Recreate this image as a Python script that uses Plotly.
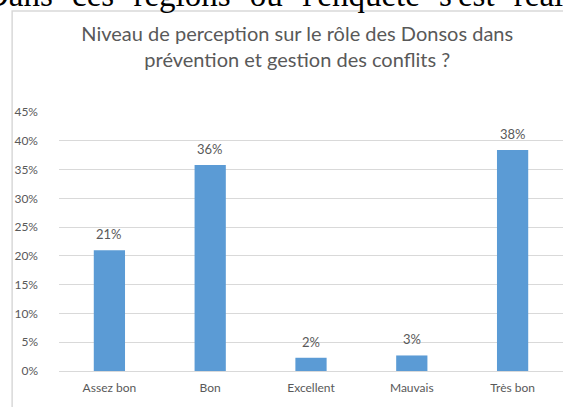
import plotly.graph_objects as go

categories = ["Assez bon", "Bon", "Excellent", "Mauvais", "Très bon"]
shares = [0.21, 0.358, 0.023, 0.027, 0.384]
y_ticks = [0, 0.05, 0.10, 0.15, 0.20, 0.25, 0.30, 0.35, 0.40, 0.45]

title_text = "Niveau de perception sur le rôle des Donsos dans<br>prévention et gestion des conflits ?"
gap = "\u00a0\u2004"
doc_text = gap.join(["Dans", "ces", "régions", "où", "l'enquête", "s'est", "réalisée"])

GREY = "#595959"
GRID = "#D9D9D9"
BLUE = "#5B9BD5"
FONT = "Lato"

fig = go.Figure()
fig.add_trace(go.Bar(
    x=categories, y=shares,
    marker=dict(color=BLUE, line=dict(width=0)),
    width=0.31,
    hoverinfo="x+y",
))

# data labels a little above each bar
for cat, val in zip(categories, shares):
    fig.add_annotation(x=cat, y=val, text=f"{val:.0%}", showarrow=False,
                       yanchor="bottom", yshift=6,
                       font=dict(family=FONT, size=13, color=GREY))

# chart frame (the Excel chart area, cut by the page at right and bottom)
fig.add_shape(type="rect", xref="paper", yref="paper",
              x0=-0.093, x1=1.05, y0=-0.3, y1=1.39,
              line=dict(color=GRID, width=1.5), layer="below")

# line of document text above the chart, cut by the page top
fig.add_annotation(text=doc_text, xref="paper", yref="paper",
                   x=-0.149, y=1.378, xanchor="left", yanchor="bottom",
                   showarrow=False, borderpad=0,
                   font=dict(family="Liberation Serif", size=33, color="black"))

fig.update_layout(
    width=563, height=407,
    margin=dict(t=112, b=36, l=59, r=0),
    plot_bgcolor="white", paper_bgcolor="white",
    showlegend=False,
    title=dict(text=title_text, xref="container", x=0.528, xanchor="center",
               yref="container", y=1 - 41 / 407, yanchor="middle",
               font=dict(family=FONT, size=20, color=GREY)),
    bargap=0.69,
)
fig.update_xaxes(showgrid=False, showline=True, linecolor=GRID, linewidth=1,
                 tickfont=dict(family=FONT, size=12, color=GREY),
                 ticklabelstandoff=6)
fig.update_yaxes(range=[0, 0.45], tickvals=y_ticks, tickformat=".0%",
                 showgrid=True, gridcolor=GRID, gridwidth=1, zeroline=False,
                 showline=False,
                 tickfont=dict(family=FONT, size=12, color=GREY),
                 ticklabelstandoff=20)

# drop the default 8px body margin so the figure sits at the page corner
fig.write_html("out.html", config={"displayModeBar": False},
               post_script="document.body.style.margin='0';")
